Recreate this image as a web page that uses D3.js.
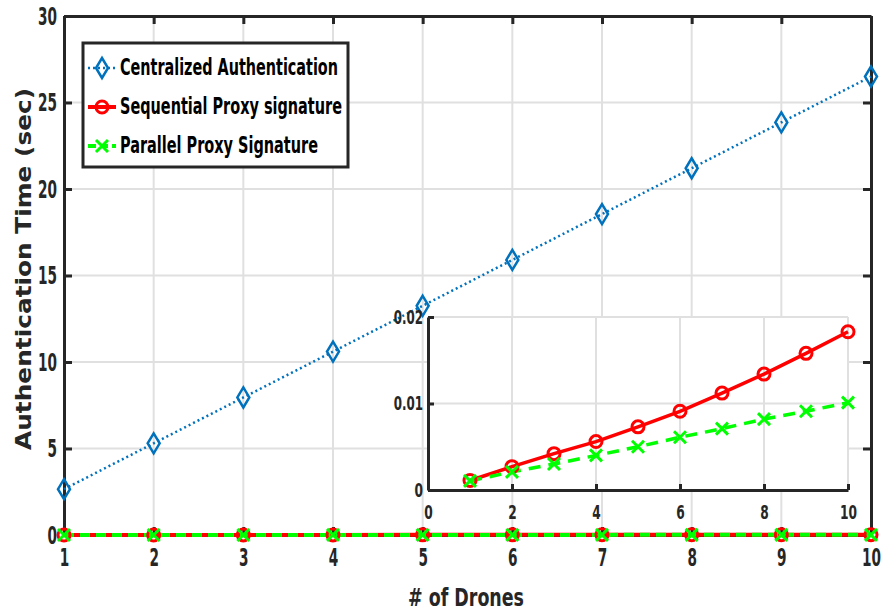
<!DOCTYPE html>
<html><head><meta charset="utf-8">
<script src="https://cdn.jsdelivr.net/npm/d3@7"></script>
<style>
body{margin:0;background:#fff;}
text{font-family:"DejaVu Sans Condensed","Liberation Sans Narrow",sans-serif;font-weight:bold;}
</style></head><body>
<svg id="c" width="881" height="611"></svg>
<script>
const drones = [1,2,3,4,5,6,7,8,9,10];
const centralized = [2.65,5.3,7.95,10.6,13.25,15.9,18.55,21.2,23.85,26.5];
const sequential = [0.0011,0.0027,0.0042,0.0056,0.0073,0.0091,0.0112,0.0134,0.0158,0.0183];
const parallel = [0.00105,0.0021,0.003,0.004,0.005,0.0061,0.0071,0.0082,0.0091,0.0101];
const mainYTicks = [0,5,10,15,20,25,30];
const mainXTicks = [1,2,3,4,5,6,7,8,9,10];
const insetXTicks = [0,2,4,6,8,10];
const insetYTicks = [0,0.01,0.02];
const insetYLabels = ["0","0.01","0.02"];
const seriesNames = ["Centralized Authentication","Sequential Proxy signature","Parallel Proxy Signature"];
const colors = ["#0072BD","#FF0000","#00FF00"];

const svg = d3.select("#c");
const x = d3.scaleLinear().domain([1,10]).range([64,871]);
const y = d3.scaleLinear().domain([0,30]).range([535,16]);
const grid = "#e0e0e0";
const FONT = "'DejaVu Sans Condensed','Liberation Sans Narrow',sans-serif";

function narrow(sel, digitW){
  sel.each(function(){
    const t = this.textContent;
    let w = 0;
    for(const ch of t) w += (ch==="." ? digitW*0.45 : digitW);
    d3.select(this).attr("textLength",w).attr("lengthAdjust","spacingAndGlyphs");
  });
}

svg.append("g").selectAll("line").data(mainXTicks).join("line")
 .attr("x1",d=>x(d)).attr("x2",d=>x(d)).attr("y1",y(0)).attr("y2",y(30))
 .attr("stroke",grid).attr("stroke-width",2);
svg.append("g").selectAll("line").data(mainYTicks).join("line")
 .attr("y1",d=>y(d)).attr("y2",d=>y(d)).attr("x1",x(1)).attr("x2",x(10))
 .attr("stroke",grid).attr("stroke-width",2);

const ax = svg.append("g").attr("transform",`translate(0,${y(0)})`)
 .call(d3.axisBottom(x).tickValues(mainXTicks).tickSizeInner(-8).tickSizeOuter(0).tickPadding(13));
const ay = svg.append("g").attr("transform",`translate(${x(1)},0)`)
 .call(d3.axisLeft(y).tickValues(mainYTicks).tickSizeInner(-8).tickSizeOuter(0).tickPadding(7));
const axT = svg.append("g").attr("transform",`translate(0,${y(30)})`)
 .call(d3.axisTop(x).tickValues(mainXTicks).tickSizeInner(-8).tickSizeOuter(0).tickFormat(""));
const ayR = svg.append("g").attr("transform",`translate(${x(10)},0)`)
 .call(d3.axisRight(y).tickValues(mainYTicks).tickSizeInner(-8).tickSizeOuter(0).tickFormat(""));
[ax,ay,axT,ayR].forEach(g=>{
  g.select(".domain").attr("stroke","#262626").attr("stroke-width",3);
  g.selectAll(".tick line").attr("stroke","#262626").attr("stroke-width",3);
  g.selectAll(".tick text").attr("font-size",25).attr("fill","#262626")
   .attr("font-family",FONT).attr("font-weight","bold").call(narrow,9.5);
});

const lineMain = d3.line().x((d,i)=>x(drones[i])).y(d=>y(d));
svg.append("path").datum(centralized).attr("d",lineMain).attr("fill","none")
 .attr("stroke",colors[0]).attr("stroke-width",2.5).attr("stroke-dasharray","2,3");
svg.append("path").datum(sequential).attr("d",lineMain).attr("fill","none")
 .attr("stroke",colors[1]).attr("stroke-width",4);
svg.append("path").datum(parallel).attr("d",lineMain).attr("fill","none")
 .attr("stroke",colors[2]).attr("stroke-width",4).attr("stroke-dasharray","10,6");

function diamond(g,cx,cy,c){
  g.append("path").attr("d",`M${cx},${cy-10}L${cx+6},${cy}L${cx},${cy+10}L${cx-6},${cy}Z`)
   .attr("fill","none").attr("stroke",c).attr("stroke-width",2.5);
}
function circ(g,cx,cy,c,r){
  g.append("circle").attr("cx",cx).attr("cy",cy).attr("r",r).attr("fill","none").attr("stroke",c).attr("stroke-width",3);
}
function cross(g,cx,cy,c,s){
  g.append("path").attr("d",`M${cx-s},${cy-s}L${cx+s},${cy+s}M${cx-s},${cy+s}L${cx+s},${cy-s}`)
   .attr("stroke",c).attr("stroke-width",3);
}
const mk = svg.append("g");
centralized.forEach((v,i)=>diamond(mk,x(drones[i]),y(v),colors[0]));
sequential.forEach((v,i)=>circ(mk,x(drones[i]),y(v),colors[1],6));
parallel.forEach((v,i)=>cross(mk,x(drones[i]),y(v),colors[2],6));

svg.append("text").attr("x",466).attr("y",606).attr("text-anchor","middle")
 .attr("font-size",25).attr("fill","#262626")
 .attr("textLength",116).attr("lengthAdjust","spacingAndGlyphs").text("# of Drones");
svg.append("text").attr("transform","translate(31,269) rotate(-90)").attr("text-anchor","middle")
 .attr("font-size",22).attr("fill","#262626")
 .style("font-family","'DejaVu Sans',sans-serif")
 .attr("textLength",362).attr("lengthAdjust","spacingAndGlyphs")
 .text("Authentication Time (sec)");

const lg = svg.append("g");
lg.append("rect").attr("x",83).attr("y",43).attr("width",265).attr("height",124)
 .attr("fill","#fff").attr("stroke","#262626").attr("stroke-width",3);
const ly = [68,107,146];
const lw = [218,222,198];
seriesNames.forEach((n,i)=>{
  const l = lg.append("line").attr("x1",88).attr("x2",116).attr("y1",ly[i]).attr("y2",ly[i])
   .attr("stroke",colors[i]).attr("stroke-width",i==0?2.5:4);
  if(i==0) l.attr("stroke-dasharray","2,3");
  if(i==2) l.attr("stroke-dasharray","8,4");
  if(i==0) diamond(lg,102,ly[i],colors[0]);
  if(i==1) circ(lg,102,ly[i],colors[1],6);
  if(i==2) cross(lg,102,ly[i],colors[2],6);
  lg.append("text").attr("x",120).attr("y",ly[i]+7).attr("font-size",23.5).attr("fill","#000")
   .attr("textLength",lw[i]).attr("lengthAdjust","spacingAndGlyphs").text(n);
});

const ix = d3.scaleLinear().domain([0,10]).range([428,848]);
const iy = d3.scaleLinear().domain([0,0.02]).range([490,317]);
const ins = svg.append("g");
ins.append("rect").attr("x",ix(0)).attr("y",iy(0.02)).attr("width",ix(10)-ix(0)).attr("height",iy(0)-iy(0.02)).attr("fill","#fff");
ins.append("g").selectAll("line").data(insetXTicks.slice(1)).join("line")
 .attr("x1",d=>ix(d)).attr("x2",d=>ix(d)).attr("y1",iy(0)).attr("y2",iy(0.02))
 .attr("stroke",grid).attr("stroke-width",2);
ins.append("g").selectAll("line").data(insetYTicks.slice(1)).join("line")
 .attr("y1",d=>iy(d)).attr("y2",d=>iy(d)).attr("x1",ix(0)).attr("x2",ix(10))
 .attr("stroke",grid).attr("stroke-width",2);
const iax = ins.append("g").attr("transform",`translate(0,${iy(0)})`)
 .call(d3.axisBottom(ix).tickValues(insetXTicks).tickSizeInner(-6).tickSizeOuter(0).tickPadding(15));
const iay = ins.append("g").attr("transform",`translate(${ix(0)},0)`)
 .call(d3.axisLeft(iy).tickValues(insetYTicks).tickFormat((d,i)=>insetYLabels[i]).tickSizeInner(-6).tickSizeOuter(0).tickPadding(5));
[iax,iay].forEach(g=>{
  g.select(".domain").attr("stroke","#262626").attr("stroke-width",3);
  g.selectAll(".tick line").attr("stroke","#262626").attr("stroke-width",3);
  g.selectAll(".tick text").attr("font-size",20).attr("fill","#262626")
   .attr("font-family",FONT).attr("font-weight","bold").call(narrow,8.5);
});
const lineIn = d3.line().x((d,i)=>ix(drones[i])).y(d=>iy(d));
ins.append("path").datum(sequential).attr("d",lineIn).attr("fill","none").attr("stroke",colors[1]).attr("stroke-width",3.5);
ins.append("path").datum(parallel).attr("d",lineIn).attr("fill","none").attr("stroke",colors[2]).attr("stroke-width",3.5).attr("stroke-dasharray","12,8");
sequential.forEach((v,i)=>circ(ins,ix(drones[i]),iy(v),colors[1],6));
parallel.forEach((v,i)=>cross(ins,ix(drones[i]),iy(v),colors[2],6));
</script></body></html>
